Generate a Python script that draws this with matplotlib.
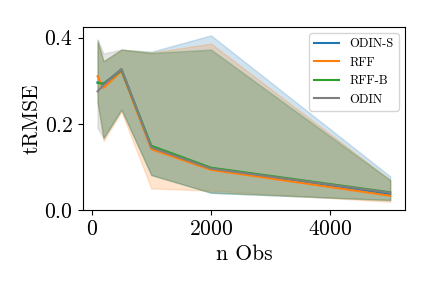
import matplotlib
matplotlib.use('Agg')
import matplotlib.pyplot as plt
from matplotlib.ticker import MultipleLocator

plt.rcParams['font.family'] = 'serif'
plt.rcParams['font.serif'] = ['cmr10']
plt.rcParams['mathtext.fontset'] = 'cm'
plt.rcParams['axes.formatter.use_mathtext'] = True
plt.rcParams['axes.unicode_minus'] = False

n_obs = [100, 200, 500, 1000, 2000, 5000]

# mean tRMSE and band (lower, upper) per method
odin_s_mean = [0.296, 0.293, 0.326, 0.147, 0.097, 0.037]
odin_s_low = [0.25, 0.167, 0.233, 0.081, 0.040, 0.023]
odin_s_high = [0.39, 0.345, 0.372, 0.367, 0.405, 0.078]

rff_mean = [0.310, 0.283, 0.322, 0.141, 0.093, 0.033]
rff_low = [0.25, 0.160, 0.228, 0.050, 0.045, 0.019]
rff_high = [0.39, 0.345, 0.372, 0.365, 0.386, 0.070]

rff_b_mean = [0.295, 0.292, 0.324, 0.149, 0.098, 0.041]
rff_b_low = [0.25, 0.167, 0.233, 0.081, 0.040, 0.023]
rff_b_high = [0.395, 0.345, 0.372, 0.365, 0.372, 0.070]

odin_mean = [0.275, 0.290, 0.327, 0.145, 0.096, 0.040]
odin_low = [0.19, 0.167, 0.233, 0.081, 0.040, 0.023]
odin_high = [0.395, 0.363, 0.372, 0.363, 0.372, 0.068]

methods = [
    ('ODIN-S', odin_s_mean, odin_s_low, odin_s_high, 'C0'),
    ('RFF', rff_mean, rff_low, rff_high, 'C1'),
    ('RFF-B', rff_b_mean, rff_b_low, rff_b_high, 'C2'),
    ('ODIN', odin_mean, odin_low, odin_high, 'C7'),
]

fig = plt.figure(figsize=(4.32, 2.88), dpi=100)
ax = fig.add_axes([0.192, 0.271, 0.745, 0.635])

for name, mean, low, high, color in methods:
    ax.plot(n_obs, mean, color=color, label=name)
    ax.fill_between(n_obs, low, high, color=color, alpha=0.2)

ax.set_ylim(bottom=0)
ax.yaxis.set_major_locator(MultipleLocator(0.2))
ax.set_xlabel('n Obs', fontsize=15.5)
ax.set_ylabel('tRMSE', fontsize=15.5, labelpad=2)
ax.tick_params(labelsize=15.5)
ax.legend(loc='upper right', fontsize=9)

fig.savefig('out.png', dpi=100)
